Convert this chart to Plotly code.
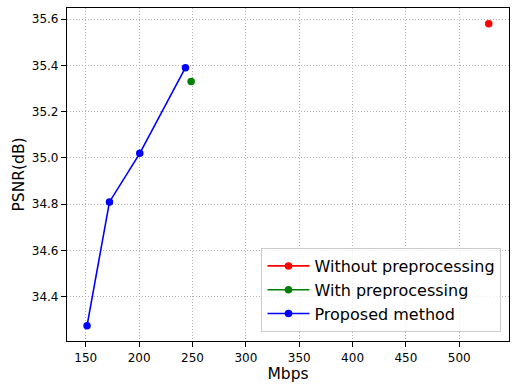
import plotly.graph_objects as go

# Data
without_x = [527.6]
without_y = [35.58]
with_x = [248.7]
with_y = [35.33]
proposed_x = [151.2, 172.2, 200.6, 243.4]
proposed_y = [34.275, 34.81, 35.02, 35.39]

x_ticks = [150, 200, 250, 300, 350, 400, 450, 500]
y_ticks = [34.4, 34.6, 34.8, 35.0, 35.2, 35.4, 35.6]

font_family = "DejaVu Sans"

fig = go.Figure()
fig.add_trace(go.Scatter(x=without_x, y=without_y, mode="lines+markers",
                         name="Without preprocessing",
                         line=dict(color="#ff0000", width=1.6),
                         marker=dict(color="#ff0000", size=7.5)))
fig.add_trace(go.Scatter(x=with_x, y=with_y, mode="lines+markers",
                         name="With preprocessing",
                         line=dict(color="#008000", width=1.6),
                         marker=dict(color="#008000", size=7.5)))
fig.add_trace(go.Scatter(x=proposed_x, y=proposed_y, mode="lines+markers",
                         name="Proposed method",
                         line=dict(color="#0000ff", width=1.6),
                         marker=dict(color="#0000ff", size=7.5)))

axis_common = dict(
    showline=True, linecolor="black", linewidth=1.2, mirror=True,
    ticks="outside", ticklen=5, tickcolor="black", tickwidth=1,
    showgrid=True, gridcolor="#b0b0b0", griddash="1px,2px", gridwidth=0.9,
    zeroline=False, automargin=False,
    tickfont=dict(family=font_family, size=12, color="black"),
)

fig.update_layout(
    width=518, height=392,
    margin=dict(l=67, r=9, t=8, b=51, autoexpand=False),
    paper_bgcolor="white", plot_bgcolor="white",
    font=dict(family=font_family, color="black"),
    xaxis=dict(range=[132.4, 546.6], tickvals=x_ticks,
               title=dict(text="Mbps", font=dict(family=font_family, size=15.5), standoff=4),
               **axis_common),
    yaxis=dict(range=[34.209, 35.648], tickvals=y_ticks, tickformat=".1f",
               title=dict(text="PSNR(dB)", font=dict(family=font_family, size=15.5), standoff=3),
               **axis_common),
    legend=dict(x=0.983, y=0.027, xanchor="right", yanchor="bottom",
                itemwidth=42,
                bgcolor="rgba(255,255,255,0.8)", bordercolor="#cccccc", borderwidth=1,
                font=dict(family=font_family, size=16, color="black")),
    showlegend=True,
)

# remove the default 8px body margin so the figure sits at the page origin
fig.write_html("out.html", config={"displayModeBar": False},
               post_script="document.body.style.margin='0';")
